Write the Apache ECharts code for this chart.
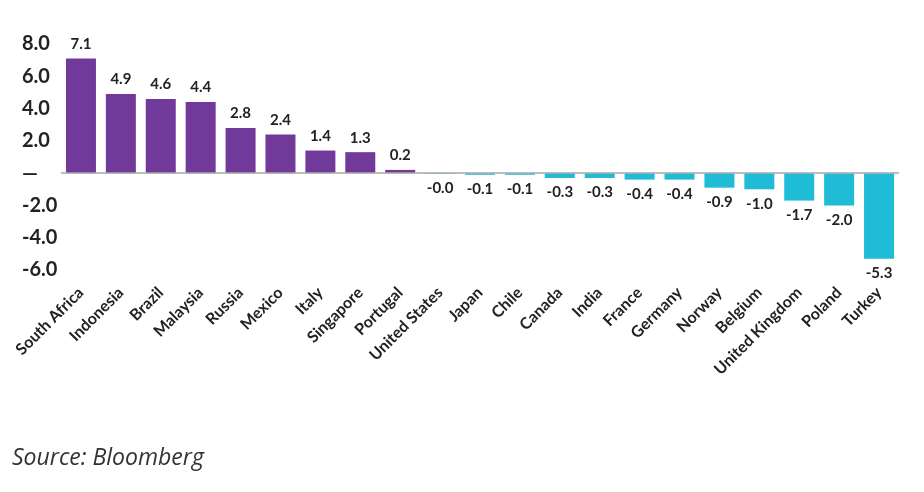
<!DOCTYPE html>
<html>
<head>
<meta charset="utf-8">
<script src="https://cdn.jsdelivr.net/npm/echarts@6/dist/echarts.min.js"></script>
<style>
html,body{margin:0;padding:0;background:#fff;}
#c{width:924px;height:492px;}
</style>
</head>
<body>
<div id="c"></div>
<script>
var categories = ["South Africa","Indonesia","Brazil","Malaysia","Russia","Mexico","Italy","Singapore","Portugal","United States","Japan","Chile","Canada","India","France","Germany","Norway","Belgium","United Kingdom","Poland","Turkey"];
var values = [7.1,4.9,4.6,4.4,2.8,2.4,1.4,1.3,0.2,-0.04,-0.1,-0.1,-0.3,-0.3,-0.4,-0.4,-0.9,-1.0,-1.7,-2.0,-5.3];
var yTicks = {min:-6, max:8, interval:2};
var sourceText = "Source: Bloomberg";

var purple = '#71399a', cyan = '#1ebcd7';
var chart = echarts.init(document.getElementById('c'));
chart.setOption({
  animation:false,
  grid:{left:61, right:25, top:44, bottom:222},
  graphic:[{type:'text', left:12, top:447, style:{text:sourceText, font:'italic 23px "Open Sans"', fill:'#333'}}],
  xAxis:{
    type:'category', data:categories,
    axisLine:{show:false}, axisTick:{show:false},
    axisLabel:{rotate:45, margin:20, interval:0, fontFamily:'Lato', fontWeight:'bold', fontSize:16, color:'#222'}
  },
  yAxis:{
    type:'value', min:yTicks.min, max:yTicks.max, interval:yTicks.interval,
    splitLine:{show:false}, axisLine:{show:false}, axisTick:{show:false},
    axisLabel:{align:'left', margin:39, fontFamily:'Lato', fontWeight:'bold', fontSize:20, color:'#222',
      formatter:function(v){return v===0?'—':v.toFixed(1);}}
  },
  series:[{
    type:'bar', barWidth:30,
    data:values.map(function(v){
      return {value:v, itemStyle:{color:v>=0?purple:cyan},
        label:{show:true, position:v>=0?'top':'bottom', distance:7}};
    }),
    label:{fontFamily:'Lato', fontWeight:'bold', fontSize:15, color:'#222',
      formatter:function(p){return p.value.toFixed(1);}},
    markLine:{silent:true, symbol:'none', label:{show:false},
      lineStyle:{color:'#aaa', type:'solid', width:1.5}, data:[{yAxis:0}]}
  }]
});
</script>
</body>
</html>
